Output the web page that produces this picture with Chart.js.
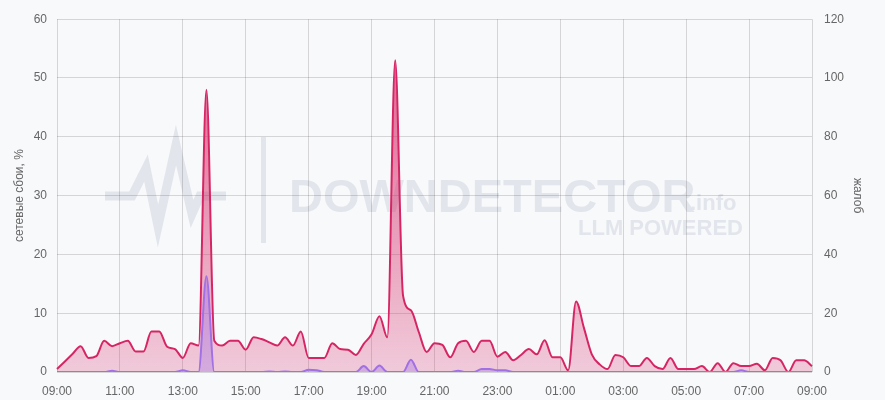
<!DOCTYPE html>
<html>
<head>
<meta charset="utf-8">
<script src="https://cdn.jsdelivr.net/npm/chart.js@4.4.1/dist/chart.umd.min.js"></script>
<style>
  html, body { margin: 0; padding: 0; background: #f8f9fb; }
  #wrap { width: 885px; height: 400px; }
</style>
</head>
<body>
<div id="wrap"><canvas id="chart" width="885" height="400"></canvas></div>
<script>
// 15-minute points from 09:00 to 09:00 next day
const times = []
for (let i = 0; i <= 96; i++) {
    const m = (9 * 60 + i * 15) % (24 * 60)
    times.push(String(Math.floor(m / 60)).padStart(2, '0') + ':' + String(m % 60).padStart(2, '0'))
}

// complaints (right axis)
const complaints = [
    1, 3.6, 6.2, 8.8, 4.8, 5.4, 10.6, 8.8, 9.8, 10.6, 7, 7, 13.8, 13.8, 8.6, 7.8,
    4.8, 9.8, 9, 96, 10.6, 9, 10.6, 10.6, 7.6, 11.8, 11.2, 10.1, 9, 11.8, 9, 13.8,
    4.8, 4.8, 4.8, 9.8, 7.8, 7.6, 5.8, 9.6, 12.8, 19, 11.8, 106, 26, 21, 13.6, 6.8,
    9.8, 9.2, 5, 9.8, 10.6, 6.8, 10.6, 10.6, 5.2, 6.8, 4, 5.8, 7.8, 6, 10.8, 5,
    5, 0.6, 24, 15, 6, 2.6, 1, 5.8, 5, 2, 2, 4.8, 2, 1, 4.8, 1,
    1, 1, 2, 0, 3, 0, 3, 2, 2, 2.8, 0.6, 4.8, 4, 0, 4, 4,
    2
]

// network failures, % (left axis)
const failures = [
    0, 0, 0, 0, 0, 0, 0, 0.2, 0, 0, 0, 0, 0, 0, 0, 0,
    0.3, 0, 0, 16.3, 0, 0, 0, 0, 0, 0, 0, 0.1, 0, 0.1, 0, 0,
    0.4, 0.3, 0, 0, 0, 0, 0, 1, 0, 1.1, 0, 0, 0, 2.1, 0, 0,
    0, 0, 0, 0.2, 0, 0, 0.5, 0.5, 0.3, 0.3, 0, 0, 0, 0, 0, 0,
    0, 0, 0, 0, 0, 0, 0, 0, 0, 0, 0, 0, 0, 0, 0, 0,
    0, 0, 0, 0, 0, 0, 0, 0.3, 0, 0, 0, 0, 0, 0, 0, 0,
    0
]

const leftTicks = [0, 10, 20, 30, 40, 50, 60]
const rightTicks = [0, 20, 40, 60, 80, 100, 120]

const fontFamily = '"Liberation Sans", Arial, sans-serif'

function gradient(context, r, g, b, aTop, aBottom) {
    const area = context.chart.chartArea
    if (!area) return 'rgba(' + r + ',' + g + ',' + b + ',' + aBottom + ')'
    const grad = context.chart.ctx.createLinearGradient(0, area.top, 0, area.bottom)
    grad.addColorStop(0, 'rgba(' + r + ',' + g + ',' + b + ',' + aTop + ')')
    grad.addColorStop(1, 'rgba(' + r + ',' + g + ',' + b + ',' + aBottom + ')')
    return grad
}

// faint watermark behind the grid
const watermark = {
    id: 'watermark',
    beforeDraw(chart) {
        const ctx = chart.ctx
        ctx.save()
        ctx.fillStyle = '#e2e5eb'
        ctx.strokeStyle = '#e2e5eb'
        ctx.lineWidth = 9
        ctx.lineJoin = 'miter'
        ctx.beginPath()
        ctx.moveTo(105, 196)
        ctx.lineTo(132, 196)
        ctx.lineTo(146, 168)
        ctx.lineTo(158, 226)
        ctx.lineTo(176, 145)
        ctx.lineTo(192, 214)
        ctx.lineTo(200, 196)
        ctx.lineTo(226, 196)
        ctx.stroke()
        ctx.fillRect(261, 137, 5, 106)
        ctx.textBaseline = 'alphabetic'
        ctx.font = 'bold 47px ' + fontFamily
        ctx.fillText('DOWNDETECTOR', 289, 212)
        ctx.font = 'bold 22px ' + fontFamily
        ctx.fillText('.info', 690, 210)
        ctx.fillText('LLM POWERED', 578, 235)
        ctx.restore()
    }
}

new Chart(document.getElementById('chart'), {
    type: 'line',
    data: {
        labels: times,
        datasets: [
            {
                label: 'сетевые сбои, %',
                data: failures,
                yAxisID: 'y',
                order: 0,
                borderColor: 'rgb(160, 112, 228)',
                borderWidth: 2,
                backgroundColor: ctx => gradient(ctx, 160, 112, 228, 0.7, 0.35),
                fill: 'origin',
                pointRadius: 0,
                cubicInterpolationMode: 'monotone'
            },
            {
                label: 'жалоб',
                data: complaints,
                yAxisID: 'y2',
                order: 1,
                borderColor: 'rgb(214, 37, 100)',
                borderWidth: 2,
                backgroundColor: ctx => gradient(ctx, 214, 37, 100, 0.75, 0.22),
                fill: 'origin',
                pointRadius: 0,
                cubicInterpolationMode: 'monotone'
            }
        ]
    },
    options: {
        responsive: false,
        animation: false,
        layout: { padding: { top: 13, left: 0, right: 0, bottom: 0 } },
        plugins: {
            legend: { display: false },
            tooltip: { enabled: false }
        },
        scales: {
            x: {
                grid: { color: 'rgba(0,0,0,0.14)', drawTicks: false },
                border: { display: false },
                ticks: {
                    autoSkip: false,
                    maxRotation: 0,
                    padding: 12,
                    color: '#666',
                    font: { family: fontFamily, size: 12 },
                    callback: (v, i) => i % 8 === 0 ? times[i] : null
                },
                afterFit: s => { s.height = 28 }
            },
            y: {
                position: 'left',
                min: 0,
                max: 60,
                afterBuildTicks: s => { s.ticks = leftTicks.map(v => ({ value: v })) },
                grid: { color: 'rgba(0,0,0,0.14)', drawTicks: false },
                border: { display: false },
                ticks: { padding: 10, color: '#666', font: { family: fontFamily, size: 12 } },
                title: {
                    display: true,
                    text: 'сетевые сбои, %',
                    color: '#666',
                    font: { family: fontFamily, size: 12 },
                    padding: { top: 12, bottom: 0 }
                },
                afterFit: s => { s.width = 57 }
            },
            y2: {
                position: 'right',
                min: 0,
                max: 120,
                afterBuildTicks: s => { s.ticks = rightTicks.map(v => ({ value: v })) },
                grid: { drawOnChartArea: false, drawTicks: false },
                border: { display: false },
                ticks: { padding: 12, color: '#666', font: { family: fontFamily, size: 12 } },
                title: {
                    display: true,
                    text: 'жалоб',
                    color: '#666',
                    font: { family: fontFamily, size: 12 },
                    padding: { top: 20, bottom: 0 }
                },
                afterFit: s => { s.width = 73 }
            }
        }
    },
    plugins: [watermark]
})
</script>
</body>
</html>
